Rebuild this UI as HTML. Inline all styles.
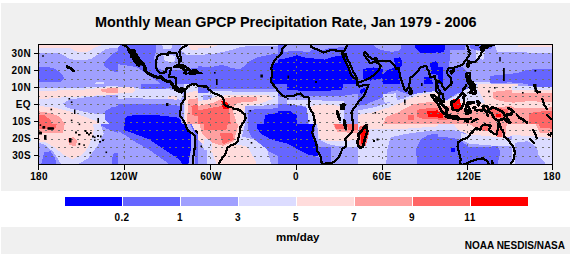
<!DOCTYPE html>
<html><head><meta charset="utf-8">
<style>
html,body{margin:0;padding:0;background:#fff;}
body{width:572px;height:256px;position:relative;overflow:hidden;font-family:"Liberation Sans",sans-serif;}
.band{position:absolute;background:#f0f0f0;}
.t{position:absolute;font-weight:bold;color:#000;white-space:nowrap;line-height:1;}
.yl{font-size:10px;letter-spacing:0.35px;right:541px;}
.xl{font-size:10px;letter-spacing:0.35px;top:172px;width:60px;text-align:center;}
.cl{font-size:10px;letter-spacing:0.35px;top:213px;width:40px;text-align:center;}
</style></head><body>
<div class="band" style="left:1px;top:3px;width:569px;height:188px;"></div>
<div class="band" style="left:1px;top:227px;width:569px;height:27px;"></div>
<div class="t m" style="left:95px;top:15px;font-size:14.45px;">Monthly Mean GPCP Precipitation Rate, Jan 1979 - 2006</div>
<div class="t yl m" style="top:49px">30N</div>
<div class="t yl m" style="top:66px">20N</div>
<div class="t yl m" style="top:83px">10N</div>
<div class="t yl m" style="top:100px">EQ</div>
<div class="t yl m" style="top:117px">10S</div>
<div class="t yl m" style="top:134px">20S</div>
<div class="t yl m" style="top:151px">30S</div>
<div class="t xl m" style="left:9px">180</div>
<div class="t xl m" style="left:94px">120W</div>
<div class="t xl m" style="left:181px">60W</div>
<div class="t xl m" style="left:266px">0</div>
<div class="t xl m" style="left:352px">60E</div>
<div class="t xl m" style="left:439px">120E</div>
<div class="t xl m" style="left:522px">180</div>
<div class="t cl m" style="left:102px">0.2</div>
<div class="t cl m" style="left:160px">1</div>
<div class="t cl m" style="left:218px">3</div>
<div class="t cl m" style="left:276px">5</div>
<div class="t cl m" style="left:334px">7</div>
<div class="t cl m" style="left:392px">9</div>
<div class="t cl m" style="left:450px">11</div>
<div class="t m" style="left:276px;top:232px;font-size:11.5px;">mm/day</div>
<div class="t m" style="right:7px;top:241px;font-size:10px;">NOAA NESDIS/NASA</div>
<svg style="position:absolute;left:0;top:0" width="572" height="256" viewBox="0 0 572 256">
<!--MAP-->
<defs>
<clipPath id="c00"><rect x="38" y="44" width="80" height="40"/></clipPath>
<clipPath id="c01"><rect x="118" y="44" width="80" height="40"/></clipPath>
<clipPath id="c02"><rect x="198" y="44" width="80" height="40"/></clipPath>
<clipPath id="c03"><rect x="278" y="44" width="80" height="40"/></clipPath>
<clipPath id="c04"><rect x="358" y="44" width="80" height="40"/></clipPath>
<clipPath id="c05"><rect x="438" y="44" width="80" height="40"/></clipPath>
<clipPath id="c06"><rect x="512" y="44" width="40" height="40"/></clipPath>
<clipPath id="c10"><rect x="38" y="84" width="80" height="40"/></clipPath>
<clipPath id="c11"><rect x="118" y="84" width="80" height="40"/></clipPath>
<clipPath id="c12"><rect x="198" y="84" width="80" height="40"/></clipPath>
<clipPath id="c13"><rect x="278" y="84" width="80" height="40"/></clipPath>
<clipPath id="c14"><rect x="358" y="84" width="80" height="40"/></clipPath>
<clipPath id="c15"><rect x="438" y="84" width="80" height="40"/></clipPath>
<clipPath id="c16"><rect x="512" y="84" width="40" height="40"/></clipPath>
<clipPath id="c20"><rect x="38" y="124" width="80" height="40"/></clipPath>
<clipPath id="c21"><rect x="118" y="124" width="80" height="40"/></clipPath>
<clipPath id="c22"><rect x="198" y="124" width="80" height="40"/></clipPath>
<clipPath id="c23"><rect x="278" y="124" width="80" height="40"/></clipPath>
<clipPath id="c24"><rect x="358" y="124" width="80" height="40"/></clipPath>
<clipPath id="c25"><rect x="438" y="124" width="80" height="40"/></clipPath>
<clipPath id="c26"><rect x="512" y="124" width="40" height="40"/></clipPath>
<clipPath id="cmap"><rect x="39" y="45" width="513" height="119"/></clipPath>
</defs>
<g clip-path="url(#cmap)" shape-rendering="crispEdges">
<rect x="38" y="44" width="515" height="121" fill="#a0a0ff"/>
<g clip-path="url(#c00)">
<polygon fill="#dcdcff" points="38.0,44.0 119.2,44.0 119.2,47.4 111.4,47.9 105.2,49.5 100.5,52.6 97.4,54.9 91.1,58.8 84.9,60.4 77.1,60.1 69.2,58.8 64.6,55.7 59.9,53.4 38.0,53.1"/>
<polygon fill="#ffdcdc" points="38.0,44.0 104.4,44.0 100.5,45.6 95.8,47.1 92.7,49.0 88.0,51.8 83.3,52.4 75.5,51.3 72.4,49.0 69.2,47.9 38.0,47.9"/>
<polygon fill="#6666ff" points="38.0,67.4 42.7,67.1 48.9,67.1 55.2,69.0 59.9,72.1 63.0,75.2 63.8,78.4 61.4,81.5 53.6,82.3 38.0,82.3"/>
<polygon fill="#6666ff" points="119.2,50.2 113.0,53.4 108.3,58.1 103.6,62.8 104.4,65.9 108.3,69.0 113.0,71.3 119.2,72.9"/>
<polygon fill="#dcdcff" points="94.2,84.6 95.8,82.3 103.6,82.3 104.4,84.6"/>
</g>
<g clip-path="url(#c01)">
<polygon fill="#6666ff" points="118.0,47.1 122.7,44.0 155.5,44.0 156.3,50.2 153.9,58.1 155.5,64.3 158.6,69.0 164.9,70.6 180.5,69.8 199.2,67.4 199.2,84.6 161.8,84.6 155.5,79.9 149.2,76.0 143.0,71.3 136.8,67.4 130.5,65.9 124.2,65.1 118.0,64.3"/>
<polygon fill="#dcdcff" points="118.0,44.0 122.7,44.0 118.0,47.1"/>
<polygon fill="#dcdcff" points="161.8,44.0 172.7,44.0 171.1,48.7 163.3,48.7"/>
<polygon fill="#dcdcff" points="163.3,54.9 175.8,55.7 174.2,62.0 164.9,61.2"/>
<polygon fill="#dcdcff" points="180.5,44.0 199.2,44.0 199.2,54.9 186.8,54.9 180.5,50.2"/>
<polygon fill="#ffdcdc" points="186.8,44.0 199.2,44.0 199.2,50.2 191.4,50.2"/>
</g>
<g clip-path="url(#c02)">
<polygon fill="#dcdcff" points="198.0,44.0 279.2,44.0 279.2,45.6 252.7,45.9 241.8,46.8 229.2,50.6 213.6,53.7 198.0,55.2"/>
<polygon fill="#ffdcdc" points="198.0,44.0 219.1,44.0 216.8,45.9 207.4,47.9 198.0,48.4"/>
<polygon fill="#6666ff" points="198.0,65.9 207.4,67.4 213.6,66.7 221.4,65.1 226.1,65.9 232.4,68.2 240.2,69.0 244.9,65.9 249.6,61.2 257.4,57.3 268.3,54.9 279.2,53.4 279.2,84.6 198.0,84.6"/>
<polygon fill="#0000ff" points="271.4,65.9 274.6,63.5 279.2,62.8 279.2,84.6 271.4,84.6"/>
</g>
<g clip-path="url(#c03)">
<polygon fill="#6666ff" points="278.0,44.0 359.2,44.0 359.2,84.6 278.0,84.6"/>
<polygon fill="#0000ff" points="278.0,59.6 287.4,58.1 296.8,55.2 303.0,57.3 317.1,58.8 324.9,59.6 332.7,56.8 340.5,55.7 344.4,54.2 347.5,62.8 351.4,72.1 356.1,79.2 357.7,84.6 278.0,84.6"/>
<polygon fill="#a0a0ff" points="284.2,44.0 312.4,44.0 313.9,48.7 309.2,51.8 293.6,51.0 284.2,51.8"/>
<polygon fill="#a0a0ff" points="312.4,44.0 346.8,44.0 346.8,47.1 329.6,47.9 323.3,50.2 313.9,48.7"/>
</g>
<g clip-path="url(#c04)">
<polygon fill="#6666ff" points="358.0,44.0 439.2,44.0 439.2,84.6 358.0,84.6"/>
<polygon fill="#a0a0ff" points="373.6,44.0 401.8,44.0 400.2,50.2 392.4,51.8 381.4,50.2 375.2,47.1"/>
<polygon fill="#0000ff" points="414.2,44.0 439.2,44.0 439.2,51.8 431.4,53.4 420.5,52.6 415.8,48.7"/>
<polygon fill="#0000ff" points="393.9,58.1 400.2,57.3 402.5,62.8 401.0,67.4 395.5,67.4"/>
<polygon fill="#0000ff" points="362.7,69.0 373.6,67.4 383.0,69.0 381.4,78.4 370.5,80.7 362.7,78.4"/>
<polygon fill="#0000ff" points="381.4,75.2 389.2,69.0 398.6,67.4 401.0,75.2 400.2,84.6 383.0,84.6"/>
<polygon fill="#0000ff" points="429.9,62.8 436.1,61.2 439.2,64.3 439.2,75.2 431.4,73.7"/>
<polygon fill="#0000ff" points="423.6,77.6 431.4,76.0 433.0,84.6 423.6,84.6"/>
</g>
<g clip-path="url(#c05)">
<polygon fill="#6666ff" points="438.0,44.0 466.1,44.0 464.6,50.2 450.5,50.2 448.9,67.4 463.0,67.4 467.7,72.1 469.2,84.6 438.0,84.6"/>
<polygon fill="#6666ff" points="469.2,44.0 494.2,44.0 491.1,48.7 477.1,50.2 470.8,48.7"/>
<polygon fill="#0000ff" points="438.0,67.4 442.7,67.4 442.7,84.6 438.0,84.6"/>
<polygon fill="#0000ff" points="438.0,44.0 445.8,44.0 444.2,51.8 438.0,53.4"/>
<polygon fill="#dcdcff" points="494.2,44.0 519.2,44.0 519.2,51.8 497.4,51.8"/>
<polygon fill="#dcdcff" points="475.5,50.2 484.9,51.8 483.3,59.6 476.3,58.8"/>
<polygon fill="#6666ff" points="489.6,76.0 503.6,74.5 519.2,72.9 519.2,82.3 489.6,82.8"/>
<polygon fill="#dcdcff" points="472.4,84.6 473.9,81.5 489.6,81.5 491.1,84.6"/>
</g>
<g clip-path="url(#c06)">
<polygon fill="#dcdcff" points="512.0,44.0 552.6,44.0 552.6,53.4 535.4,52.6 527.6,52.6 512.0,51.0"/>
<polygon fill="#ffdcdc" points="518.2,44.0 552.6,44.0 552.6,47.1 518.2,47.1"/>
<polygon fill="#6666ff" points="512.0,83.1 512.0,75.2 524.5,70.6 535.4,69.0 552.6,68.7 552.6,84.6"/>
</g>
<g clip-path="url(#c10)">
<polygon fill="#dcdcff" points="38.0,87.9 77.1,87.9 119.2,85.9 119.2,124.6 38.0,124.6"/>
<polygon fill="#ffdcdc" points="38.0,91.0 53.6,90.6 69.2,90.2 84.9,89.5 100.5,87.9 119.2,86.5 119.2,94.3 108.3,94.9 92.7,95.7 77.1,96.8 63.0,97.3 53.6,98.1 38.0,99.6"/>
<polygon fill="#ffa0a0" points="100.5,89.0 108.3,88.4 119.2,87.9 119.2,92.6 106.8,92.6 100.5,91.0"/>
<polygon fill="#a0a0ff" points="119.2,94.6 100.5,95.9 84.9,97.3 69.2,99.6 63.0,103.5 66.1,107.4 77.1,110.2 92.7,113.4 105.2,114.5 119.2,115.2"/>
<polygon fill="#6666ff" points="119.2,105.9 111.4,107.4 105.2,111.3 105.2,119.9 109.9,124.6 119.2,124.6"/>
<polygon fill="#ffdcdc" points="38.0,105.9 53.6,107.4 69.2,111.3 84.9,116.8 97.4,121.5 100.5,124.6 38.0,124.6"/>
<polygon fill="#ffa0a0" points="38.0,111.3 50.5,112.9 59.9,116.8 65.3,124.6 38.0,124.6"/>
<polygon fill="#ff6666" points="38.0,114.5 44.2,115.2 50.5,119.9 52.1,124.6 38.0,124.6"/>
</g>
<g clip-path="url(#c11)">
<polygon fill="#6666ff" points="141.4,84.0 172.7,84.0 174.2,87.1 164.9,88.7 141.4,88.7"/>
<polygon fill="#dcdcff" points="118.0,87.1 141.4,88.7 164.9,88.7 180.5,91.0 183.6,94.9 180.5,99.6 164.9,98.8 149.2,98.8 133.6,98.1 118.0,98.8"/>
<polygon fill="#ffdcdc" points="118.0,87.1 133.6,87.4 135.2,90.2 132.1,93.4 118.0,93.4"/>
<polygon fill="#ffdcdc" points="168.0,95.7 177.4,96.2 177.4,99.6 168.0,99.3"/>
<polygon fill="#6666ff" points="118.0,104.3 133.6,103.5 149.2,104.0 164.9,104.3 180.5,105.9 180.5,124.6 118.0,124.6"/>
<polygon fill="#0000ff" points="124.2,124.6 125.8,116.8 133.6,115.2 149.2,114.5 164.9,116.0 177.4,117.6 180.5,119.9 182.1,124.6"/>
<polygon fill="#dcdcff" points="183.6,84.0 199.2,84.0 199.2,124.6 183.6,124.6"/>
<polygon fill="#ffdcdc" points="185.2,93.4 199.2,90.2 199.2,124.6 185.2,124.6"/>
<polygon fill="#ffa0a0" points="188.3,99.6 199.2,98.1 199.2,124.6 186.8,124.6"/>
<polygon fill="#ff6666" points="191.4,105.9 199.2,104.3 199.2,116.8 192.2,115.2"/>
</g>
<g clip-path="url(#c12)">
<polygon fill="#6666ff" points="198.0,84.0 279.2,84.0 279.2,88.7 244.9,89.5 210.5,88.7 207.4,93.4 198.0,93.4"/>
<polygon fill="#dcdcff" points="210.5,91.0 244.9,91.8 279.2,91.8 279.2,103.5 260.5,105.9 246.4,107.4 244.9,124.6 198.0,124.6 198.0,93.4 207.4,93.4"/>
<polygon fill="#a0a0ff" points="202.7,94.9 212.1,94.9 212.1,101.2 202.7,101.2"/>
<polygon fill="#ffdcdc" points="198.0,101.2 207.4,99.6 216.8,96.5 226.1,95.2 244.9,94.6 268.3,95.2 273.0,98.8 260.5,103.5 244.9,105.9 243.3,124.6 198.0,124.6"/>
<polygon fill="#ffa0a0" points="198.0,105.9 213.6,102.8 221.4,98.8 232.4,97.3 257.4,97.3 257.4,101.2 237.1,102.8 232.4,109.0 237.1,124.6 198.0,124.6"/>
<polygon fill="#ff6666" points="198.0,110.6 213.6,107.4 223.0,105.9 229.2,109.8 230.8,124.6 198.0,124.6"/>
<polygon fill="#ff0000" points="221.4,101.2 227.7,102.8 229.2,109.0 223.0,109.0"/>
<polygon fill="#a0a0ff" points="244.9,105.9 260.5,105.9 279.2,104.3 279.2,124.6 244.9,124.6"/>
<polygon fill="#6666ff" points="248.0,109.8 263.6,109.0 279.2,108.2 279.2,124.6 248.0,124.6"/>
<polygon fill="#0000ff" points="263.6,124.6 265.2,115.2 271.4,113.7 279.2,112.9 279.2,124.6"/>
</g>
<g clip-path="url(#c13)">
<polygon fill="#6666ff" points="278.0,84.0 359.2,84.0 359.2,93.4 343.6,95.7 332.7,95.7 317.1,96.5 301.4,95.7 287.4,96.5 278.0,95.7"/>
<polygon fill="#0000ff" points="287.4,84.0 343.6,84.0 342.1,89.5 324.9,91.0 301.4,90.6 287.4,90.2"/>
<polygon fill="#6666ff" points="278.0,104.3 287.4,103.5 298.3,105.9 309.2,107.4 307.7,124.6 278.0,124.6"/>
<polygon fill="#0000ff" points="278.0,110.6 290.5,111.3 296.8,115.2 296.8,124.6 278.0,124.6"/>
<polygon fill="#dcdcff" points="287.4,99.6 318.6,99.6 324.9,101.2 343.6,101.2 343.6,124.6 309.2,124.6 306.1,105.9 287.4,104.3"/>
<polygon fill="#ffdcdc" points="310.8,105.9 324.9,104.3 340.5,105.9 338.9,124.6 313.9,124.6"/>
</g>
<g clip-path="url(#c14)">
<polygon fill="#6666ff" points="358.0,84.0 439.2,84.0 439.2,91.8 428.3,93.4 417.4,94.9 404.9,93.4 397.1,90.2 389.2,91.8 381.4,98.1 373.6,101.2 365.8,104.3 358.0,105.9"/>
<polygon fill="#0000ff" points="359.6,90.2 364.2,87.9 366.6,90.2 361.1,94.2"/>
<polygon fill="#dcdcff" points="358.0,110.6 373.6,107.4 389.2,102.8 404.9,98.1 417.4,93.4 428.3,91.8 439.2,91.0 439.2,124.6 358.0,124.6"/>
<polygon fill="#dcdcff" points="383.0,94.2 395.5,93.4 397.1,101.2 384.6,102.8"/>
<polygon fill="#ffdcdc" points="358.0,115.2 373.6,112.1 389.2,107.4 404.9,101.2 417.4,95.2 428.3,93.7 439.2,92.1 439.2,124.6 358.0,124.6"/>
<polygon fill="#ffa0a0" points="383.0,124.6 386.1,116.8 398.6,112.1 412.7,104.3 423.6,102.8 439.2,101.2 439.2,124.6"/>
<polygon fill="#ff6666" points="417.4,109.8 428.3,108.2 439.2,107.4 439.2,119.2 423.6,119.2 417.4,116.8"/>
<polygon fill="#ff6666" points="408.0,115.2 414.2,115.2 414.2,119.9 408.0,119.9"/>
<polygon fill="#ff0000" points="426.8,111.3 439.2,110.2 439.2,116.8 428.3,116.8"/>
</g>
<g clip-path="url(#c15)">
<polygon fill="#6666ff" points="438.0,84.0 477.1,84.0 477.1,88.7 466.1,93.4 456.8,93.4 447.4,99.6 438.0,101.2"/>
<polygon fill="#dcdcff" points="464.6,90.2 478.6,84.0 519.2,84.0 519.2,124.6 438.0,124.6 438.0,101.2 447.4,99.6 456.8,94.9"/>
<polygon fill="#ffdcdc" points="478.6,84.0 519.2,84.0 519.2,124.6 438.0,124.6 438.0,104.3 450.5,99.6 464.6,101.2 477.1,104.3 484.9,102.8 480.2,93.4 477.1,88.7"/>
<polygon fill="#ffa0a0" points="492.7,91.8 508.3,90.2 519.2,91.0 519.2,102.8 500.5,101.2 492.7,98.1"/>
<polygon fill="#ffa0a0" points="438.0,107.4 447.4,105.9 469.2,110.6 484.9,107.4 519.2,105.9 519.2,124.6 438.0,124.6"/>
<polygon fill="#ff6666" points="438.0,110.6 447.4,111.3 447.4,119.9 438.0,119.9"/>
<polygon fill="#ff6666" points="489.6,107.4 508.3,109.0 508.3,118.4 491.1,117.6"/>
<polygon fill="#ff0000" points="452.1,99.6 459.9,98.8 461.4,109.8 453.6,110.6"/>
<polygon fill="#ff0000" points="438.0,112.1 442.7,112.9 442.7,118.4 438.0,118.4"/>
<polygon fill="#ff0000" points="495.8,113.7 500.5,113.7 500.5,116.8 495.8,116.8"/>
</g>
<g clip-path="url(#c16)">
<polygon fill="#6666ff" points="527.6,84.0 552.6,84.0 552.6,87.1 529.2,87.4"/>
<polygon fill="#dcdcff" points="512.0,86.3 527.6,86.3 552.6,87.1 552.6,124.6 512.0,124.6"/>
<polygon fill="#ffdcdc" points="512.0,89.5 552.6,90.2 552.6,124.6 512.0,124.6"/>
<polygon fill="#ffa0a0" points="512.0,92.6 552.6,93.4 552.6,102.0 527.6,101.2 512.0,102.8"/>
<polygon fill="#ffa0a0" points="512.0,107.4 527.6,108.2 552.6,107.4 552.6,124.6 512.0,124.6"/>
<polygon fill="#ff6666" points="529.2,112.9 543.2,111.3 552.6,111.3 552.6,124.6 529.2,124.6"/>
</g>
<g clip-path="url(#c20)">
<polygon fill="#6666ff" points="98.9,124.0 119.2,124.0 119.2,133.4 106.8,128.7"/>
<polygon fill="#6666ff" points="41.1,164.6 44.2,152.1 50.5,151.3 55.2,158.4 56.8,164.6"/>
<polygon fill="#6666ff" points="111.4,164.6 113.0,153.7 119.2,152.1 119.2,164.6"/>
<polygon fill="#dcdcff" points="38.0,124.0 100.5,124.0 103.6,133.4 97.4,145.9 88.0,158.4 77.1,164.6 61.4,164.6 53.6,152.1 44.2,144.3 38.0,142.8"/>
<polygon fill="#ffdcdc" points="38.0,124.0 92.7,124.0 94.2,128.7 91.1,139.6 88.0,147.4 81.8,155.2 72.4,159.2 63.0,154.5 56.8,149.0 47.4,142.8 38.0,141.2"/>
<polygon fill="#ffa0a0" points="38.0,124.0 64.6,124.0 63.0,133.4 38.0,133.4"/>
<polygon fill="#ffa0a0" points="67.7,138.1 73.9,137.3 77.1,141.2 75.5,145.9 69.2,145.1"/>
<polygon fill="#ff6666" points="38.0,124.0 56.8,124.0 55.2,128.7 38.0,128.7"/>
</g>
<g clip-path="url(#c21)">
<polygon fill="#6666ff" points="118.0,124.0 199.2,124.0 199.2,164.6 170.0,164.6 160.2,157.6 149.2,149.8 136.8,142.8 127.4,136.5 118.0,131.0"/>
<polygon fill="#0000ff" points="124.2,124.0 185.2,124.0 186.8,130.2 191.4,133.4 191.4,144.3 189.9,155.2 188.3,164.6 182.1,164.6 180.0,159.9 165.0,149.9 150.0,139.9 137.5,134.9 124.2,130.2"/>
<polygon fill="#a0a0ff" points="185.2,124.0 189.9,124.0 194.6,133.4 194.6,164.6 188.3,164.6 190.7,152.1 191.4,133.4"/>
<polygon fill="#ffdcdc" points="191.4,124.0 199.2,124.0 199.2,131.8 194.6,130.2"/>
</g>
<g clip-path="url(#c22)">
<polygon fill="#6666ff" points="248.0,124.0 279.2,124.0 279.2,156.8 269.9,152.1 260.5,144.3 251.1,136.5 248.0,130.2"/>
<polygon fill="#0000ff" points="257.4,124.0 279.2,124.0 279.2,142.0 269.9,138.8 260.5,133.4 256.6,127.1"/>
<polygon fill="#dcdcff" points="198.0,124.0 244.9,124.0 241.8,136.5 254.2,139.6 266.8,149.0 271.4,164.6 198.0,164.6"/>
<polygon fill="#a0a0ff" points="198.0,147.4 207.4,149.0 207.4,164.6 198.0,164.6"/>
<polygon fill="#a0a0ff" points="198.0,138.1 201.9,138.1 201.9,164.6 198.0,164.6"/>
<polygon fill="#ffdcdc" points="197.2,124.0 243.3,124.0 240.2,136.5 233.9,144.3 244.9,145.9 249.6,150.6 254.2,158.4 256.9,164.6 216.8,164.6 212.1,152.1 201.9,142.8 197.2,139.6"/>
<polygon fill="#dcdcff" points="204.2,138.8 212.1,138.8 212.1,149.8 204.2,149.8"/>
<polygon fill="#ffa0a0" points="199.6,124.0 238.6,124.0 233.9,141.2 223.0,145.9 212.1,142.8 201.9,133.4"/>
<polygon fill="#ff6666" points="204.2,124.0 227.7,124.0 226.1,130.2 204.2,130.2"/>
<polygon fill="#ff6666" points="219.9,133.4 232.4,133.4 233.9,139.6 223.0,144.3"/>
</g>
<g clip-path="url(#c23)">
<polygon fill="#6666ff" points="278.0,139.6 287.4,142.8 296.8,147.4 309.2,153.7 324.9,159.9 331.1,164.6 278.0,164.6"/>
<polygon fill="#6666ff" points="310.8,124.0 315.5,124.0 313.9,133.4 318.6,145.9 323.3,156.8 320.2,158.4 313.9,147.4 310.0,133.4"/>
<polygon fill="#6666ff" points="320.2,147.4 331.1,147.4 331.1,164.6 320.2,164.6"/>
<polygon fill="#0000ff" points="278.0,124.0 313.9,124.0 311.6,133.4 316.3,145.9 318.6,156.0 309.2,155.2 296.8,149.0 287.4,143.5 278.0,141.2"/>
<polygon fill="#dcdcff" points="317.1,124.0 359.2,124.0 359.2,147.4 345.2,146.7 331.1,145.1 318.6,139.6"/>
<polygon fill="#ffdcdc" points="317.8,124.0 359.2,124.0 359.2,139.6 343.6,141.2 329.6,141.5 320.2,139.6 317.8,131.8"/>
<polygon fill="#ffa0a0" points="332.7,124.0 359.2,124.0 359.2,133.4 337.4,131.8"/>
<polygon fill="#ff6666" points="334.2,124.0 343.6,124.0 343.6,128.7 335.8,128.7"/>
<polygon fill="#ff6666" points="346.8,124.0 359.2,124.0 359.2,130.2 348.3,130.2"/>
</g>
<g clip-path="url(#c24)">
<polygon fill="#6666ff" points="415.8,149.0 420.5,139.6 428.3,134.9 439.2,133.4 439.2,164.6 417.4,164.6"/>
<polygon fill="#dcdcff" points="358.0,124.0 439.2,124.0 439.2,130.2 420.5,131.8 404.9,134.2 390.8,137.3 387.7,147.4 386.1,164.6 358.0,164.6"/>
<polygon fill="#ffdcdc" points="358.0,124.0 439.2,124.0 439.2,126.3 404.9,128.7 373.6,128.7 367.4,130.2"/>
<polygon fill="#ff6666" points="358.8,127.1 367.4,124.0 368.9,133.4 365.8,145.9 359.6,147.4"/>
<polygon fill="#ff0000" points="360.3,131.8 365.8,128.7 365.8,141.2 361.1,144.3"/>
</g>
<g clip-path="url(#c25)">
<polygon fill="#6666ff" points="438.0,136.5 453.6,138.1 461.4,141.2 469.2,147.4 484.9,147.4 497.4,145.9 500.5,152.1 497.4,164.6 438.0,164.6"/>
<polygon fill="#0000ff" points="450.5,148.2 455.2,148.2 455.2,152.1 451.3,152.1"/>
<polygon fill="#dcdcff" points="438.0,124.0 519.2,124.0 519.2,133.4 500.5,134.9 484.9,134.2 469.2,133.4 453.6,130.2 438.0,130.2"/>
<polygon fill="#dcdcff" points="461.4,133.4 484.9,134.9 511.4,139.6 513.0,145.9 497.4,145.9 484.9,145.1 469.2,143.5 461.4,139.6"/>
<polygon fill="#ffdcdc" points="453.6,124.0 519.2,124.0 519.2,134.2 503.6,138.1 484.9,135.7 469.2,134.9 456.8,128.7"/>
<polygon fill="#ffa0a0" points="469.2,124.0 506.8,124.0 505.2,136.5 497.4,136.5 492.7,130.2 484.9,130.2 477.1,128.7"/>
<polygon fill="#ff6666" points="481.8,125.6 488.0,125.6 488.0,131.0 482.5,131.0"/>
<polygon fill="#ff6666" points="495.8,128.7 502.1,128.7 502.1,136.5 497.4,136.5"/>
</g>
<g clip-path="url(#c26)">
<polygon fill="#dcdcff" points="512.0,133.4 535.4,135.7 552.6,138.1 552.6,164.6 512.0,164.6"/>
<polygon fill="#a0a0ff" points="515.1,142.8 527.6,141.2 537.0,147.4 538.6,155.2 546.4,164.6 515.1,164.6"/>
<polygon fill="#ffdcdc" points="512.0,124.0 552.6,124.0 552.6,138.1 535.4,136.5 512.0,134.9"/>
<polygon fill="#ffa0a0" points="535.4,124.0 552.6,124.0 552.6,133.4 540.1,132.6"/>
<polygon fill="#ff6666" points="538.6,124.0 552.6,124.0 552.6,128.7 540.1,127.9"/>
</g>
</g>
<g stroke="#707070" stroke-width="1" fill="none" shape-rendering="crispEdges" clip-path="url(#cmap)">
<path d="M38 53.5H552" stroke-dasharray="2 4.54"/>
<path d="M38 62.5H552" stroke-dasharray="2 4.54"/>
<path d="M38 70.5H552" stroke-dasharray="2 4.54"/>
<path d="M38 79.5H552" stroke-dasharray="2 4.54"/>
<path d="M38 87.5H552" stroke-dasharray="2 4.54"/>
<path d="M38 96.5H552" stroke-dasharray="2 4.54"/>
<path d="M38 104.5H552" stroke-dasharray="2 4.54"/>
<path d="M38 113.5H552" stroke-dasharray="2 4.54"/>
<path d="M38 122.5H552" stroke-dasharray="2 4.54"/>
<path d="M38 130.5H552" stroke-dasharray="2 4.54"/>
<path d="M38 139.5H552" stroke-dasharray="2 4.54"/>
<path d="M38 147.5H552" stroke-dasharray="2 4.54"/>
<path d="M38 156.5H552" stroke-dasharray="2 4.54"/>
<path d="M124.5 45V164" stroke-dasharray="2 4.54" stroke-dashoffset="-1"/>
<path d="M210.5 45V164" stroke-dasharray="2 4.54" stroke-dashoffset="-1"/>
<path d="M296.5 45V164" stroke-dasharray="2 4.54" stroke-dashoffset="-1"/>
<path d="M382.5 45V164" stroke-dasharray="2 4.54" stroke-dashoffset="-1"/>
<path d="M467.5 45V164" stroke-dasharray="2 4.54" stroke-dashoffset="-1"/>
</g>
<g fill="none" stroke="#000" stroke-width="2.2" stroke-linejoin="round" stroke-linecap="round" shape-rendering="crispEdges" clip-path="url(#cmap)">
<polyline points="122.7,43.6 123.3,45.2 126.3,46.2 128.3,48.8 129.0,50.0 130.2,52.6 132.4,55.5 131.2,56.8 133.7,58.7 135.4,62.0 137.9,64.7 138.6,65.2 139.2,64.2 138.0,63.0 136.6,59.9 135.3,56.5 133.7,53.9 131.7,50.5 131.9,50.3 134.2,51.0 135.3,53.9 137.4,56.8 139.3,60.6 141.3,61.6 143.4,64.7 145.2,67.6 144.6,69.5 146.3,71.6 147.7,73.1 150.6,74.5 153.4,75.9 157.7,77.6 160.6,76.7 163.9,79.6 165.6,80.7 167.7,81.4 170.6,81.9 172.0,83.9 173.1,85.5 173.1,87.5 174.6,88.2 176.1,89.9 177.3,90.4 179.1,91.3 181.3,92.0 180.8,90.3 182.7,89.1 183.8,90.4 184.8,92.5 185.1,95.9 184.8,98.5 183.0,101.9 181.3,103.6 180.6,106.2 181.3,108.4 179.8,112.2 179.6,114.8 182.0,118.2 184.1,121.6 186.3,126.8 188.4,131.1 192.0,133.3 194.8,135.9 195.3,142.2 194.8,147.4 193.4,155.9 193.3,161.1 192.7,166.2"/>
<polyline points="187.7,43.6 186.3,45.4 184.1,46.6 182.4,47.9 180.1,49.6 179.3,52.2 180.6,56.5 181.3,59.1 180.7,61.3 179.6,61.3 178.7,59.1 177.4,56.5 177.3,53.9 175.3,52.9 173.4,53.4 170.6,52.4 167.7,52.7 168.0,54.8 166.3,54.4 164.1,53.8 161.3,53.8 159.6,55.0 157.0,56.8 156.4,59.9 156.0,63.4 155.9,66.8 156.7,69.4 158.4,71.6 160.1,72.8 163.4,72.6 165.6,72.3 166.3,70.2 166.6,68.5 169.1,67.8 171.1,67.6 170.6,70.2 170.1,72.8 169.4,75.4 168.6,77.2 170.6,77.4 174.1,77.1 176.3,78.4 176.3,82.2 176.0,85.6 176.7,87.4 179.1,89.4 182.0,88.0 184.8,89.8 186.3,88.4 187.7,86.5 189.8,85.3 192.7,83.9 194.1,85.3 195.6,83.9 197.7,86.0 201.3,86.3 204.1,86.5 207.0,86.5 208.4,89.1 210.1,90.3 212.7,92.8 217.0,94.2 220.5,95.9 222.7,97.6 224.1,101.1 224.1,104.5 226.3,106.2 231.2,107.1 235.5,109.3 239.1,109.6 242.7,113.1 245.2,113.9 245.5,118.2 243.4,122.5 240.5,126.8 239.8,131.9 238.7,137.1 237.7,141.4 235.5,143.9 231.2,145.3 227.0,148.2 226.1,152.5 224.1,155.9 222.0,158.5 219.8,161.9 217.7,165.4"/>
<polyline stroke-width="2.6" points="174.1,67.0 178.4,64.7 181.3,64.9 185.6,66.8 189.6,69.9 184.8,70.4 184.1,68.8 179.8,67.1 175.6,67.0 174.1,67.0"/>
<polyline stroke-width="2.6" points="189.1,73.0 192.7,70.4 197.0,70.7 198.0,72.6 195.6,73.3 192.7,73.6 189.1,73.3 189.1,73.0"/>
<polyline points="183.7,73.1 186.6,73.6"/>
<polyline points="199.6,72.8 201.8,73.3"/>
<polyline points="287.6,43.0 281.9,49.6 281.5,53.9 276.9,57.4 274.1,61.6 271.9,65.9 271.2,68.5 271.9,71.1 272.2,75.4 270.9,79.3 271.7,83.1 274.1,85.6 276.2,88.2 278.4,91.6 281.9,95.1 284.8,97.0 289.8,95.6 292.6,96.3 296.9,94.2 300.5,93.5 303.4,96.8 305.5,97.0 307.6,96.8 309.1,98.5 309.5,101.9 308.6,106.2 311.2,110.5 312.6,113.1 314.3,118.2 314.8,123.4 313.3,127.6 312.3,132.8 314.1,137.9 316.2,143.1 317.3,150.8 319.1,153.5 321.2,158.5 321.6,162.8 324.1,164.2 327.6,162.8 331.9,162.8 334.8,161.1 338.3,157.6 340.5,153.4 342.3,149.1 346.2,145.6 345.9,142.2 345.2,138.8 347.6,136.2 351.9,131.9 353.3,128.5 353.0,122.5 351.9,116.5 351.5,112.6 353.3,108.8 355.5,106.2 358.3,101.9 361.2,99.4 364.0,95.9 366.2,90.8 368.6,84.8 364.0,85.1 359.8,86.5 357.2,84.8 357.3,82.6 356.2,78.8 352.6,77.1 350.5,73.6 348.8,68.5 346.9,64.2 345.8,62.5 344.0,58.6 343.3,56.5 341.9,53.1 341.6,50.8 338.3,50.8 331.2,50.0 324.1,52.2 323.3,52.6 317.6,49.6 311.2,47.1 310.1,43.6"/>
<polyline points="346.2,43.6 346.9,45.4 345.5,48.8 344.5,51.0 341.9,53.1 344.5,56.5 345.5,53.9 347.6,59.9 349.8,63.4 351.5,67.6 353.3,71.9 356.2,76.2 356.9,80.5 357.6,82.7 359.8,82.2 364.0,80.5 369.7,77.9 374.0,75.0 376.9,72.3 379.0,69.4 380.9,65.9 379.0,64.0 376.2,62.5 375.7,59.9 374.0,61.6 371.2,63.2 369.0,62.5 368.3,59.9 366.9,59.1 364.7,55.6 363.7,53.1 365.5,52.2 367.6,54.8 369.0,56.7 372.6,58.9 376.2,58.2 377.6,60.6 382.6,61.3 386.9,61.1 390.4,61.0 392.6,63.9 394.7,65.9 396.2,68.8 399.2,68.0 399.4,71.9 400.4,77.1 401.9,81.4 403.3,85.6 404.7,89.6 406.2,90.8 407.2,89.4 408.7,86.8 409.4,84.3 410.2,81.4 410.0,77.9 412.6,76.2 415.4,73.3 419.0,70.2 419.7,67.6 422.6,66.8 424.7,65.9 426.6,66.1 427.3,69.0 429.0,71.1 430.1,77.1 431.6,77.4 434.7,76.2 436.1,82.2 436.1,87.4 435.9,90.8 438.7,93.4 439.7,99.4 443.3,102.1 444.3,102.3 443.3,97.6 443.1,93.9 441.1,93.7 439.0,89.9 437.6,87.4 437.1,81.4 439.0,81.4 441.8,83.9 442.6,86.5 445.1,89.8 447.1,88.4 448.3,86.5 451.4,84.4 451.6,81.4 450.8,78.3 448.3,75.4 446.6,72.3 447.8,69.4 449.7,67.6 452.1,67.6 453.3,69.7 454.0,67.6 457.6,66.4 458.7,65.9 461.8,65.1 463.7,62.8 466.1,60.3 467.3,57.9 469.3,55.6 469.7,53.1 468.3,51.7 469.5,50.3 468.1,48.6 467.3,45.7 465.7,43.6"/>
<polyline points="475.8,43.6 476.1,45.4 478.3,44.8 480.1,44.0 480.4,43.5"/>
<polyline stroke-width="2.6" points="480.8,47.4 481.8,51.0 483.3,50.5 484.0,47.1 482.5,45.9 485.4,45.4 488.2,45.2 488.5,46.6 489.7,45.4 490.8,45.7 491.4,44.5 493.7,45.0 495.1,44.2 496.5,43.5"/>
<polyline stroke-width="2.6" points="484.7,47.6 487.5,47.4 486.8,45.9 485.1,46.4"/>
<polyline points="409.4,92.5 410.0,87.7 412.3,91.6 411.4,93.9 409.7,94.2 409.4,92.5"/>
<polyline stroke-width="2.6" points="365.9,125.1 367.6,131.1 366.2,134.5 364.7,139.6 363.0,146.5 360.0,148.2 357.9,144.8 357.3,141.4 358.9,137.9 358.3,133.6 361.2,131.4 363.7,127.8 365.9,125.1"/>
<polyline stroke-width="2.6" points="450.6,71.6 453.3,70.0 454.0,70.9 451.8,73.3 450.6,71.6"/>
<polyline stroke-width="2.6" points="467.0,65.1 468.3,61.3 469.7,61.6 468.3,66.8 467.0,65.1"/>
<polyline stroke-width="2.6" points="466.8,72.8 470.0,72.8 469.7,77.1 469.0,79.6 472.5,82.2 471.8,83.1 467.5,80.2 466.5,76.7 466.8,72.8"/>
<polyline stroke-width="2.6" points="469.7,92.5 474.7,88.2 476.1,92.5 474.7,94.2 472.5,93.4 469.7,92.5"/>
<polyline stroke-width="2.6" points="469.7,87.4 472.5,84.8 474.7,85.6 471.8,87.7 469.7,87.4"/>
<polyline stroke-width="2.6" points="462.8,90.1 466.1,85.6"/>
<polyline stroke-width="2.6" points="451.1,101.9 452.6,109.6 458.3,110.5 461.8,107.9 464.0,102.8 463.7,96.8 465.4,95.6 462.6,92.5 460.4,95.4 457.6,98.5 454.0,101.8 452.0,101.1 451.1,101.9"/>
<polyline stroke-width="2.6" points="431.6,95.1 434.7,95.6 439.0,101.1 444.7,107.1 446.8,110.0 446.6,114.4 444.7,113.9 441.6,111.4 439.0,106.2 436.6,101.9 434.0,99.4 431.6,95.1"/>
<polyline stroke-width="2.6" points="445.7,116.2 447.6,114.8 452.6,116.2 456.4,116.3 459.0,117.9 458.8,119.4 453.3,118.6 447.6,117.2 445.7,116.2"/>
<polyline stroke-width="2.6" points="459.7,118.9 465.4,119.2 471.1,118.9"/>
<polyline stroke-width="2.6" points="472.5,121.3 476.8,118.9"/>
<polyline stroke-width="2.6" points="466.1,113.9 465.4,109.6 466.5,104.5 467.5,102.4 473.3,101.9 474.0,102.4 469.0,103.6 467.3,106.2 469.0,107.6 471.1,112.2 469.7,113.1 468.3,109.6 467.5,113.9"/>
<polyline stroke-width="2.6" points="477.5,101.1 478.3,105.4 479.4,102.8"/>
<polyline stroke-width="2.6" points="478.3,110.0 482.3,110.5"/>
<polyline stroke-width="2.6" points="482.5,106.6 486.8,105.9 489.0,110.0 492.5,107.1 496.8,109.0 503.2,112.2 504.7,115.6 506.5,115.1 507.1,118.2 510.4,122.5 506.8,122.0 504.0,118.6 500.4,119.9 499.0,120.4 496.8,120.1 494.0,118.2 492.1,113.6 488.2,111.9 485.4,111.4 484.0,109.3 482.5,106.6"/>
<polyline stroke-width="2.6" points="507.5,114.1 510.4,113.9 512.5,111.9 511.8,114.4 508.2,115.1"/>
<polyline stroke-width="2.6" points="510.4,109.0 514.0,112.2"/>
<polyline stroke-width="2.6" points="516.8,114.8 519.7,117.9 522.5,119.1 524.7,120.8 526.8,122.5"/>
<polyline points="533.2,129.9 534.7,132.8 535.8,135.4 536.8,137.9"/>
<polyline points="529.7,139.1 533.9,143.1"/>
<polyline points="548.6,134.5 550.4,135.4 550.8,133.3 552.5,132.8"/>
<polyline points="457.6,142.2 458.6,141.9 462.1,139.8 465.4,138.6 469.0,136.2 470.0,134.0 471.8,132.8 473.3,131.1 475.4,128.5 477.5,128.5 480.4,129.9 481.1,126.8 482.5,125.4 484.7,124.2 486.1,124.7 488.2,125.4 490.8,125.4 490.4,127.1 489.0,129.7 491.1,131.6 494.0,133.6 496.5,134.5 497.7,130.2 497.7,125.9 499.0,122.8 500.4,125.9 500.8,129.0 503.0,130.2 504.4,136.9 508.0,139.3 510.4,143.1 514.0,147.7 514.8,152.8 514.0,157.6 513.2,160.2 511.4,162.8 510.4,165.4"/>
<polyline points="462.6,165.4 459.7,163.3 460.7,159.4 459.7,155.1 458.3,149.9 457.6,146.5 458.0,143.1 457.6,142.2"/>
<polyline points="462.6,164.7 464.0,164.5 468.3,162.4 472.5,160.9 475.4,159.9 479.7,158.7 483.3,158.5 486.8,160.7 489.1,164.2 489.7,165.4"/>
<polyline points="491.8,165.4 492.5,163.6 492.1,161.1 493.2,165.4"/>
<polyline stroke-width="3.2" points="128.3,48.8 129.0,50.0 130.2,52.6 132.4,55.5 133.7,58.7 135.4,62.0 137.9,64.7 138.6,65.2 139.2,64.2 138.0,63.0 136.6,59.9 135.3,56.5 133.7,53.9 131.7,50.5 134.2,51.0 135.3,53.9 137.4,56.8 139.3,60.6 141.3,61.6 143.4,64.7 145.2,67.6 144.6,69.5 146.3,71.6 147.7,73.1 150.6,74.5 153.4,75.9 157.7,77.6 160.6,76.7 163.9,79.6 165.6,80.7 167.7,81.4 170.6,81.9 172.0,83.9 173.1,85.5 173.1,87.5 174.6,88.2 176.1,89.9 177.3,90.4 179.1,91.3 181.3,92.0"/>
<polyline stroke-width="2.6" points="67.1,66.6 69.9,67.8 71.6,68.8 73.5,71.1"/>
<polyline stroke-width="2.6" points="67.6,67.3 70.6,68.5 72.8,70.6"/>
<polyline points="471.8,62.5 474.7,62.0 478.0,59.1 480.4,55.6 481.8,52.2"/>
<polyline stroke-width="2.6" points="467.5,81.4 469.0,83.4"/>
<polyline stroke-width="2.6" points="473.0,83.1 474.7,85.3 474.0,87.4"/>
<polyline stroke-width="2.6" points="470.4,84.8 471.4,88.7 472.5,86.5"/>
<polyline stroke-width="2.6" points="446.1,107.6 448.0,109.6"/>
<polyline stroke-width="2.6" points="475.4,110.0 476.8,110.5"/>
<polyline stroke-width="2.6" points="465.4,121.1 468.0,121.6"/>
<polyline stroke-width="2.6" points="466.5,119.2 471.1,118.7"/>
<polyline stroke-width="2.6" points="473.3,107.6 475.4,107.6"/>
<polyline stroke-width="2.6" points="471.8,122.0 474.7,119.9 477.3,119.1"/>
<polyline stroke-width="2.6" points="487.1,113.9 488.0,115.6"/>
<polyline stroke-width="2.6" points="508.2,108.3 511.1,109.6"/>
<polyline points="542.2,99.0 543.2,101.9 544.6,105.4 546.8,108.8"/>
<polyline points="533.7,84.8 535.4,88.2 537.5,92.5 540.4,92.2"/>
<polyline points="546.8,114.8 551.1,119.1"/>
<polyline stroke-width="3.2" points="341.2,105.4 344.0,104.2 343.8,108.8 341.5,108.8 341.2,105.4 342.6,106.7"/>
<polyline stroke-width="3.2" points="337.2,111.4 339.0,117.4 339.8,119.1"/>
<polyline stroke-width="3.2" points="344.3,120.8 345.2,125.9 345.8,128.5"/>
<polyline points="195.8,130.7 197.3,132.4"/>
</g>
<g fill="#000" clip-path="url(#cmap)">
<rect x="42.2" y="55.2" width="1.6" height="1.6"/>
<rect x="50.5" y="108.7" width="1.6" height="1.6"/>
<rect x="74.0" y="109.5" width="1.4" height="4.5"/>
<rect x="70.8" y="119.6" width="1.6" height="1.6"/>
<rect x="78.6" y="123.5" width="1.6" height="1.6"/>
<rect x="97.4" y="118.0" width="1.6" height="4.8"/>
<rect x="47.4" y="127.4" width="6.0" height="2.2"/>
<rect x="42.7" y="126.0" width="2.5" height="2.5"/>
<rect x="38.5" y="132.0" width="3.5" height="2.5"/>
<rect x="44.0" y="135.0" width="2.5" height="4.5"/>
<rect x="39.6" y="124.3" width="1.6" height="1.6"/>
<rect x="69.0" y="138.0" width="2.5" height="4.5"/>
<rect x="78.6" y="143.0" width="1.6" height="1.6"/>
<rect x="68.5" y="98.0" width="1.6" height="1.6"/>
<rect x="70.8" y="101.4" width="1.6" height="1.6"/>
<rect x="499.3" y="57.0" width="1.4" height="4.5"/>
<rect x="503.0" y="68.0" width="1.8" height="13.0"/>
<rect x="534.5" y="70.0" width="1.6" height="1.6"/>
<rect x="488.0" y="90.5" width="1.8" height="2.0"/>
<rect x="494.0" y="87.0" width="1.6" height="1.6"/>
<rect x="522.0" y="92.0" width="1.6" height="1.6"/>
<rect x="534.5" y="84.0" width="2.0" height="8.0"/>
<rect x="260.4" y="74.5" width="2.5" height="3.0"/>
<rect x="140.0" y="63.5" width="2.0" height="2.0"/>
<rect x="178.0" y="59.0" width="2.5" height="4.0"/>
<rect x="216.0" y="79.0" width="1.6" height="6.0"/>
<rect x="214.0" y="72.0" width="1.6" height="1.6"/>
<rect x="232.5" y="108.5" width="1.6" height="1.6"/>
<rect x="290.0" y="104.0" width="1.6" height="1.6"/>
<rect x="287.0" y="98.0" width="1.6" height="1.6"/>
<rect x="308.0" y="120.0" width="1.6" height="1.6"/>
<rect x="376.5" y="138.5" width="2.0" height="2.0"/>
<rect x="373.0" y="140.0" width="2.0" height="2.0"/>
<rect x="374.5" y="112.0" width="1.6" height="1.6"/>
<rect x="366.5" y="124.0" width="1.6" height="1.6"/>
<rect x="404.0" y="99.5" width="1.6" height="4.0"/>
<rect x="421.0" y="83.0" width="1.6" height="3.0"/>
<rect x="424.0" y="91.0" width="1.6" height="1.6"/>
<rect x="250.7" y="142.0" width="1.6" height="1.6"/>
<rect x="249.5" y="110.0" width="1.6" height="1.6"/>
<rect x="200.5" y="145.5" width="1.6" height="1.6"/>
<rect x="105.5" y="151.5" width="1.6" height="1.6"/>
<rect x="271.0" y="47.0" width="2.0" height="2.0"/>
<rect x="166.0" y="103.0" width="2.5" height="3.0"/>
<rect x="287.5" y="75.5" width="1.6" height="3.0"/>
<rect x="315.0" y="81.0" width="2.0" height="2.0"/>
<rect x="75.0" y="131.5" width="2.0" height="2.0"/>
<rect x="78.0" y="134.0" width="2.5" height="1.6"/>
<rect x="84.5" y="130.0" width="2.0" height="2.0"/>
<rect x="86.0" y="132.0" width="2.0" height="2.0"/>
<rect x="88.0" y="133.5" width="2.0" height="2.0"/>
<rect x="90.0" y="132.0" width="1.6" height="2.0"/>
<rect x="92.0" y="135.5" width="2.0" height="2.0"/>
<rect x="94.0" y="136.5" width="1.6" height="1.6"/>
<rect x="97.0" y="135.0" width="2.0" height="2.0"/>
<rect x="100.0" y="135.5" width="1.6" height="2.0"/>
<rect x="102.0" y="139.5" width="2.0" height="1.6"/>
<rect x="94.0" y="139.5" width="1.6" height="1.6"/>
<rect x="99.0" y="141.0" width="2.0" height="1.6"/>
<rect x="83.3" y="144.3" width="1.6" height="1.6"/>
<rect x="89.5" y="152.0" width="1.6" height="1.6"/>
<rect x="42.5" y="126.5" width="2.0" height="2.0"/>
<rect x="48.0" y="127.5" width="6.0" height="2.0"/>
<rect x="44.0" y="135.0" width="2.0" height="4.5"/>
<rect x="39.0" y="131.5" width="2.5" height="2.0"/>
<rect x="69.0" y="139.0" width="2.0" height="3.0"/>
<rect x="78.5" y="143.5" width="1.6" height="1.6"/>
</g>
<!--/MAP-->
<g fill="none" stroke="#000" stroke-width="1">
<rect x="38.5" y="44.5" width="514" height="120"/>

<path d="M34 53.5H38M34 70.5H38M34 87.5H38M34 104.5H38M34 121.5H38M34 138.5H38M34 155.5H38"/>
<path d="M38.5 165V170M124.5 165V170M210.5 165V170M296.5 165V170M382.5 165V170M467.5 165V170M552.5 165V170"/>
</g>
<g>
<rect x="65" y="197" width="57" height="9" fill="#0000ff"/>
<rect x="123" y="197" width="57" height="9" fill="#6666ff"/>
<rect x="181" y="197" width="57" height="9" fill="#a0a0ff"/>
<rect x="239" y="197" width="57" height="9" fill="#dcdcff"/>
<rect x="297" y="197" width="57" height="9" fill="#ffdcdc"/>
<rect x="355" y="197" width="57" height="9" fill="#ffa0a0"/>
<rect x="413" y="197" width="57" height="9" fill="#ff6666"/>
<rect x="471" y="197" width="57" height="9" fill="#ff0000"/>
</g>
</svg>
</body></html>
